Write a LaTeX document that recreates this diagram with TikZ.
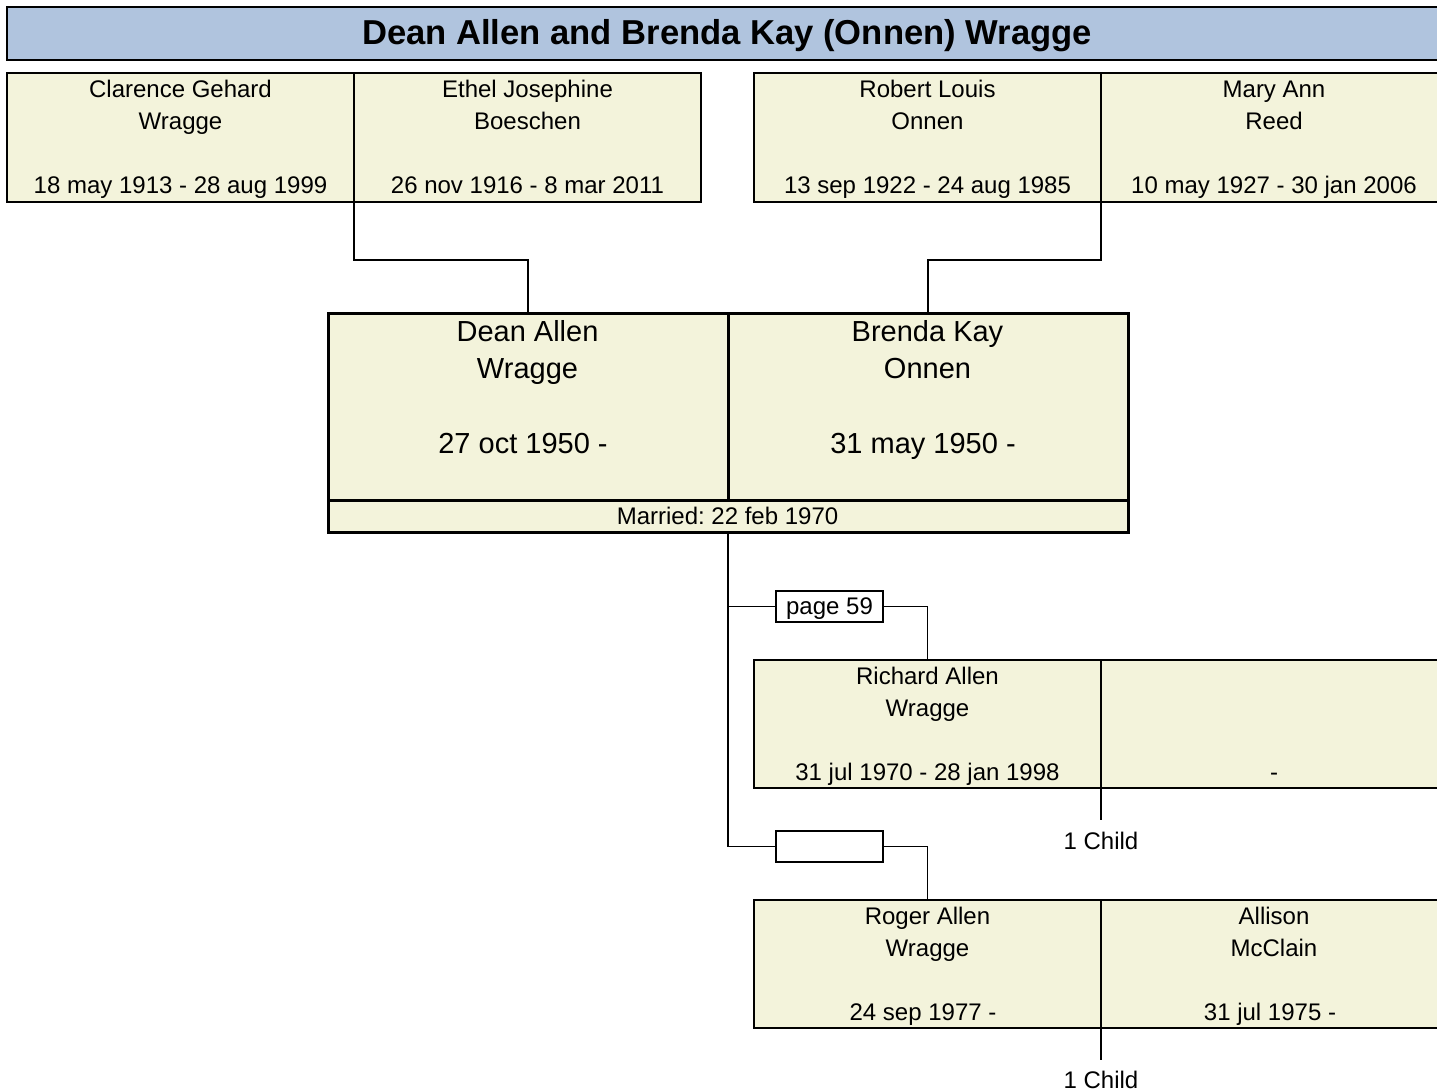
\documentclass[tikz,border=0pt]{standalone}
\usepackage{fontspec}
\setmainfont{Liberation Sans}
\definecolor{boxfill}{HTML}{F3F3DB}
\definecolor{titlefill}{HTML}{B0C4DE}
\begin{document}
\frenchspacing
\begin{tikzpicture}[x=1pt,y=-1pt,
  pbox/.style={draw=black, fill=boxfill, line width=1.6pt, inner sep=0pt, outer sep=0pt, anchor=north west, rectangle},
  mbox/.style={pbox, line width=3pt},
  tbox/.style={draw=black, fill=titlefill, line width=2.6pt, inner sep=0pt, outer sep=0pt, anchor=north west, rectangle},
  wbox/.style={draw=black, fill=white, line width=1.4pt, inner sep=0pt, outer sep=0pt, anchor=north west, rectangle},
  txt/.style={anchor=base, inner sep=0pt, font=\fontsize{24}{29}\selectfont},
  bigtxt/.style={anchor=base, inner sep=0pt, font=\fontsize{29}{35}\selectfont},
  conn/.style={draw=black, line width=1.6pt}
]
\clip (0,0) rectangle (1437,1091);
\fill[white] (0,0) rectangle (1437,1091);

% title
\node[tbox, minimum width=1450pt, minimum height=53pt] (title) at (7,7) {};
\node[anchor=base, inner sep=0pt, font=\fontsize{34.6}{40}\selectfont\bfseries] (titletxt) at (727,44.5) {Dean Allen and Brenda Kay (Onnen) Wragge};

% grandparents
\node[pbox, minimum width=347pt, minimum height=129pt] (gp1) at (7,73) {};
\node[pbox, minimum width=347pt, minimum height=129pt] (gp2) at (354,73) {};
\node[pbox, minimum width=347pt, minimum height=129pt] (gp3) at (754,73) {};
\node[pbox, minimum width=347pt, minimum height=129pt] (gp4) at (1101,73) {};

\node[txt] (gp1a) at (180.5,97.5) {Clarence Gehard};
\node[txt] (gp1b) at (180.5,129.5) {Wragge};
\node[txt] (gp1c) at (180.5,193.5) {18 may 1913 - 28 aug 1999};
\node[txt] (gp2a) at (527.5,97.5) {Ethel Josephine};
\node[txt] (gp2b) at (527.5,129.5) {Boeschen};
\node[txt] (gp2c) at (527.5,193.5) {26 nov 1916 - 8 mar 2011};
\node[txt] (gp3a) at (927.5,97.5) {Robert Louis};
\node[txt] (gp3b) at (927.5,129.5) {Onnen};
\node[txt] (gp3c) at (927.5,193.5) {13 sep 1922 - 24 aug 1985};
\node[txt] (gp4a) at (1274,97.5) {Mary Ann};
\node[txt] (gp4b) at (1274,129.5) {Reed};
\node[txt] (gp4c) at (1274,193.5) {10 may 1927 - 30 jan 2006};

% main couple
\node[mbox, minimum width=400pt, minimum height=187pt] (dean) at (328,313) {};
\node[mbox, minimum width=400pt, minimum height=187pt] (brenda) at (728,313) {};
\node[mbox, minimum width=800pt, minimum height=32pt] (married) at (328,500) {};

\node[bigtxt] (deana) at (527.5,341.5) {Dean Allen};
\node[bigtxt] (deanb) at (527.5,378.5) {Wragge};
\node[bigtxt] (deanc) at (523,453) {27 oct 1950 -};
\node[bigtxt] (brena) at (927.5,341.5) {Brenda Kay};
\node[bigtxt] (brenb) at (927.5,378.5) {Onnen};
\node[bigtxt] (brenc) at (923,453) {31 may 1950 -};
\node[txt] (marrtxt) at (727.5,524) {Married: 22 feb 1970};

% connectors from grandparents
\draw[conn] (gp1.south east) -- ++(0,58) -| (dean.north);
\draw[conn] (gp3.south east) -- ++(0,58) -| (brenda.north);

% children
\node[wbox, minimum width=107pt, minimum height=31pt] (pg1) at (776,591) {};
\node[txt] (pg1txt) at (829.5,614) {page 59};
\node[wbox, minimum width=107pt, minimum height=31pt] (pg2) at (776,831) {};

\node[pbox, minimum width=347pt, minimum height=128pt] (rich) at (754,660) {};
\node[pbox, minimum width=347pt, minimum height=128pt] (richsp) at (1101,660) {};
\node[pbox, minimum width=347pt, minimum height=128pt] (roger) at (754,900) {};
\node[pbox, minimum width=347pt, minimum height=128pt] (alli) at (1101,900) {};

\node[txt] (richa) at (927.5,684.5) {Richard Allen};
\node[txt] (richb) at (927.5,716.5) {Wragge};
\node[txt] (richc) at (927.5,780.5) {31 jul 1970 - 28 jan 1998};
\node[txt] (richspc) at (1274,780.5) {-};
\node[txt] (rogera) at (927.5,924.5) {Roger Allen};
\node[txt] (rogerb) at (927.5,956.5) {Wragge};
\node[txt] (rogerc) at (923,1020.5) {24 sep 1977 -};
\node[txt] (allia) at (1274,924.5) {Allison};
\node[txt] (allib) at (1274,956.5) {McClain};
\node[txt] (allic) at (1270,1020.5) {31 jul 1975 -};

\draw[conn] (married.south) |- (pg1.west);
\draw[conn] (married.south) |- (pg2.west);
\draw[conn] (pg1.east) -| (rich.north);
\draw[conn] (pg2.east) -| (roger.north);

\coordinate (c1) at (1101,820);
\coordinate (c2) at (1101,1060);
\draw[conn] (rich.south east) -- (c1);
\draw[conn] (roger.south east) -- (c2);
\node[txt] (child1) at (1101,849) {1 Child};
\node[txt] (child2) at (1101,1088) {1 Child};
\end{tikzpicture}
\end{document}
